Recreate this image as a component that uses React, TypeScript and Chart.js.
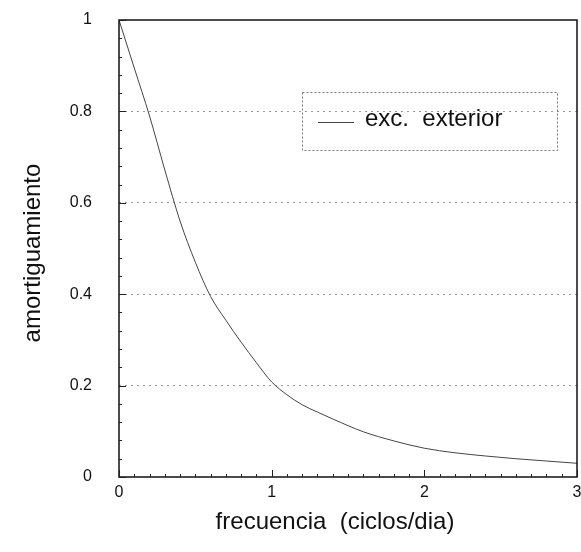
import React, { useEffect, useRef } from "react";
import { Chart, registerables } from "chart.js";

Chart.register(...registerables);

const frequency: number[] = [0, 0.1, 0.2, 0.3, 0.4, 0.5, 0.6, 0.7, 0.8, 0.9, 1.0, 1.1, 1.2, 1.3, 1.4, 1.6, 1.8, 2.0, 2.2, 2.4, 2.6, 2.8, 3.0];
const damping: number[] = [1.0, 0.895, 0.79, 0.672, 0.56, 0.47, 0.395, 0.343, 0.295, 0.25, 0.208, 0.18, 0.158, 0.142, 0.127, 0.099, 0.079, 0.063, 0.053, 0.046, 0.04, 0.035, 0.03];
const seriesLabel = "exc.  exterior";
const xTitle = "frecuencia  (ciclos/dia)";
const yTitle = "amortiguamiento";
const xTicks: number[] = [0, 1, 2, 3];
const yTicks: number[] = [0, 0.2, 0.4, 0.6, 0.8, 1];

const FONT = "'Liberation Sans', Arial, Helvetica, sans-serif";

const decorPlugin = {
  id: "decor",
  afterDatasetsDraw(chart: any) {
    const { ctx, chartArea } = chart;
    const { left, right, top, bottom } = chartArea;
    const xs = chart.scales.x;
    const ys = chart.scales.y;
    ctx.save();
    // frame
    ctx.strokeStyle = "#111";
    ctx.lineWidth = 1.5;
    ctx.setLineDash([]);
    ctx.strokeRect(left, top, right - left, bottom - top);
    // inward ticks
    ctx.lineWidth = 1;
    ctx.strokeStyle = "#222";
    for (let i = 0; i <= 25; i++) {
      const v = i * 0.04;
      const y = Math.round(ys.getPixelForValue(v)) + 0.5;
      const len = i % 5 === 0 ? 7 : 3;
      ctx.beginPath();
      ctx.moveTo(left, y);
      ctx.lineTo(left + len, y);
      ctx.stroke();
    }
    for (let i = 0; i <= 30; i++) {
      const v = i * 0.1;
      const x = Math.round(xs.getPixelForValue(v)) + 0.5;
      const len = i % 10 === 0 ? 7 : 3;
      ctx.beginPath();
      ctx.moveTo(x, bottom);
      ctx.lineTo(x, bottom - len);
      ctx.stroke();
    }
    // legend box
    const bx = left + 183;
    const by = top + 72;
    const bw = 255;
    const bh = 58;
    ctx.strokeStyle = "#777";
    ctx.setLineDash([2, 2]);
    ctx.strokeRect(bx + 0.5, by + 0.5, bw, bh);
    ctx.setLineDash([]);
    const ds = chart.data.datasets[0];
    ctx.strokeStyle = ds.borderColor;
    ctx.lineWidth = 1;
    ctx.beginPath();
    ctx.moveTo(bx + 16, by + 30.5);
    ctx.lineTo(bx + 52, by + 30.5);
    ctx.stroke();
    ctx.fillStyle = "#111";
    ctx.font = `24px ${FONT}`;
    ctx.textAlign = "left";
    ctx.textBaseline = "middle";
    ctx.fillText(ds.label, bx + 63, by + 27);
    // axis titles
    ctx.font = `24px ${FONT}`;
    ctx.textAlign = "center";
    ctx.textBaseline = "middle";
    ctx.fillText(xTitle, left + 216, chart.height - 30);
    ctx.save();
    ctx.translate(33, top + 233);
    ctx.rotate(-Math.PI / 2);
    ctx.fillText(yTitle, 0, 0);
    ctx.restore();
    ctx.restore();
  },
};

export default function App() {
  const ref = useRef<HTMLCanvasElement | null>(null);
  useEffect(() => {
    if (!ref.current) return;
    const chart = new Chart(ref.current, {
      type: "line",
      data: {
        datasets: [
          {
            label: seriesLabel,
            data: frequency.map((f, i) => ({ x: f, y: damping[i] })),
            borderColor: "#444",
            borderWidth: 1,
            pointRadius: 0,
            cubicInterpolationMode: "monotone",
            fill: false,
          },
        ],
      },
      options: {
        animation: false,
        responsive: true,
        maintainAspectRatio: false,
        layout: { padding: { top: 20, right: 4, left: 0, bottom: 0 } },
        plugins: { legend: { display: false }, tooltip: { enabled: false } },
        scales: {
          x: {
            type: "linear",
            min: 0,
            max: 3,
            afterFit: (s: any) => {
              s.height = 75;
              s.paddingLeft = 0;
              s.paddingRight = 0;
            },
            afterBuildTicks: (s: any) => {
              s.ticks = xTicks.map((v) => ({ value: v }));
            },
            ticks: {
              color: "#111",
              font: { family: FONT, size: 16 },
              padding: 6,
              maxRotation: 0,
              callback: (v: any) => String(v),
            },
            grid: { display: false, drawTicks: false },
            border: { display: false },
            title: { display: false },
          },
          y: {
            type: "linear",
            min: 0,
            max: 1,
            afterFit: (s: any) => {
              s.width = 119;
              s.paddingTop = 0;
              s.paddingBottom = 0;
            },
            afterBuildTicks: (s: any) => {
              s.ticks = yTicks.map((v) => ({ value: v }));
            },
            ticks: {
              color: "#111",
              font: { family: FONT, size: 16 },
              padding: 27,
              callback: (v: any) => String(Math.round(Number(v) * 10) / 10),
            },
            grid: {
              drawTicks: false,
              lineWidth: 1,
              color: (c: any) =>
                c.tick && (c.tick.value === 0 || c.tick.value === 1) ? "rgba(0,0,0,0)" : "#9a9a9a",
            },
            border: { display: false, dash: [2, 4] },
            title: { display: false },
          },
        },
      },
      plugins: [decorPlugin],
    });
    return () => chart.destroy();
  }, []);
  return (
    <div style={{ position: "fixed", left: 0, top: 0, width: 581, height: 552, background: "#fff" }}>
      <canvas ref={ref} />
    </div>
  );
}
